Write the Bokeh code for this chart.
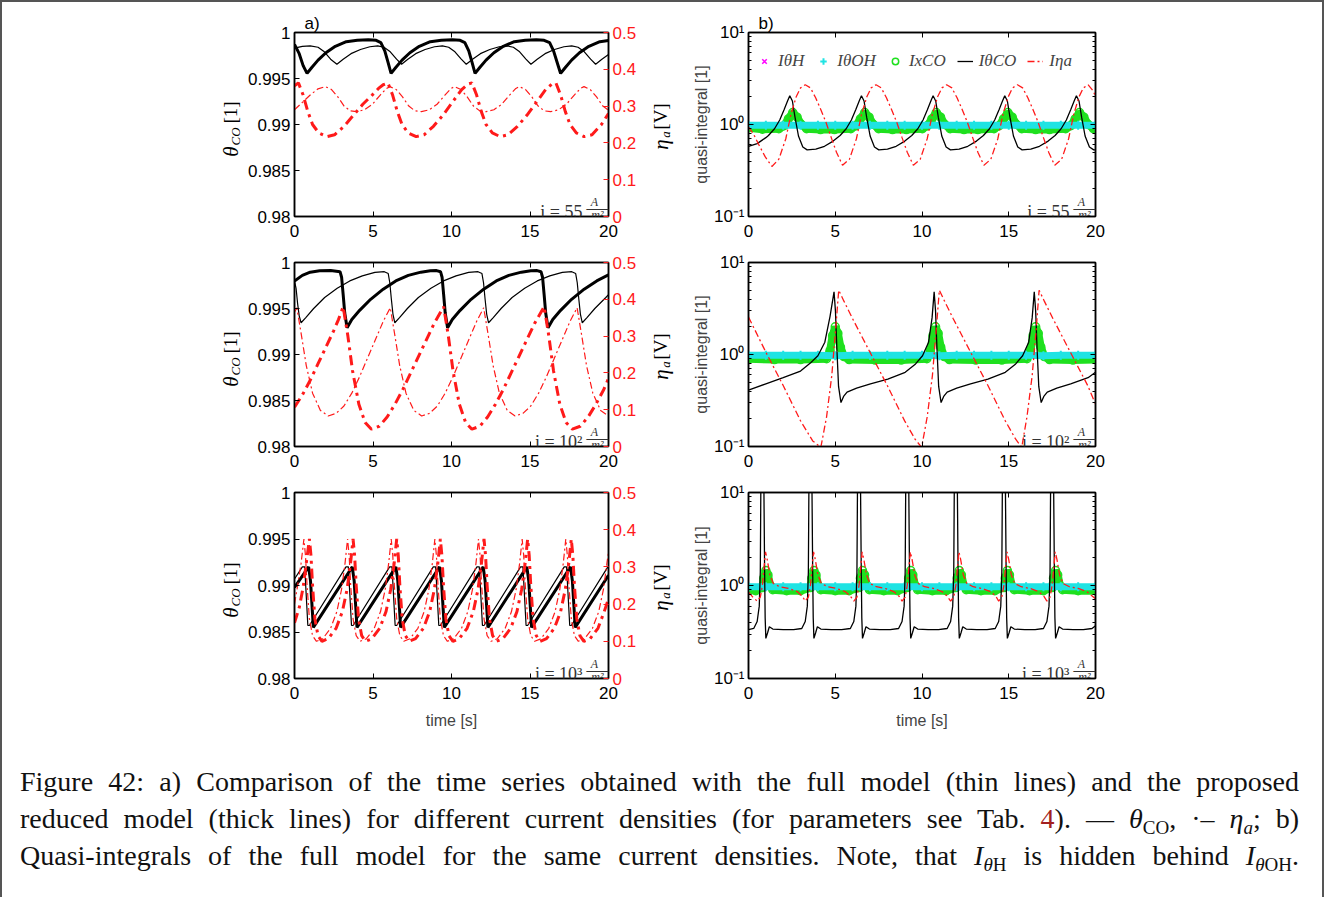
import math
from bokeh.plotting import figure
from bokeh.models import (Range1d, LinearAxis, LogAxis, FixedTicker, CustomJSTickFormatter,
                          Label, Legend, LegendItem, Spacer, Div, Title)
from bokeh.layouts import row, column
from bokeh.embed import file_html
from bokeh.resources import INLINE

# ---------------- tick values / labels ----------------
TIME_TICKS = [0, 5, 10, 15, 20]
THETA_TICKS = [0.98, 0.985, 0.99, 0.995, 1.0]
ETA_TICKS = [0, 0.1, 0.2, 0.3, 0.4, 0.5]
QI_TICKS = [0.1, 1, 10]
QI_MINOR = [0.2, 0.3, 0.4, 0.5, 0.6, 0.7, 0.8, 0.9, 2, 3, 4, 5, 6, 7, 8, 9]
CURRENTS = ["55", "10\u00b2", "10\u00b3"]

# ---------------- panel a1 (i = 55 A/m^2) ----------------
A1_THICK_THETA = [(0, 0.9987), (0.3, 0.9977), (0.55, 0.9964), (0.8, 0.99555), (1.1, 0.9962), (1.5, 0.9970),
    (2.0, 0.9978), (2.6, 0.9985), (3.3, 0.9990), (4.0, 0.99915), (4.7, 0.9992), (5.2, 0.99915), (5.5, 0.9989),
    (5.75, 0.9980), (5.95, 0.9968), (6.15, 0.99555), (6.45, 0.9962), (6.85, 0.9970), (7.35, 0.9978), (7.95, 0.9985),
    (8.65, 0.9990), (9.35, 0.99915), (10.05, 0.9992), (10.55, 0.99915), (10.85, 0.9989), (11.1, 0.9980),
    (11.3, 0.9968), (11.5, 0.99555), (11.8, 0.9962), (12.2, 0.9970), (12.7, 0.9978), (13.3, 0.9985), (14.0, 0.9990),
    (14.7, 0.99915), (15.4, 0.9992), (15.9, 0.99915), (16.25, 0.9989), (16.5, 0.9980), (16.72, 0.9968),
    (16.95, 0.99555), (17.25, 0.9962), (17.65, 0.9970), (18.15, 0.9978), (18.75, 0.9985), (19.45, 0.9990),
    (20.0, 0.99912)]
A1_THIN_THETA = [(0, 0.9983), (0.5, 0.9985), (1.0, 0.99855), (1.5, 0.9984), (1.9, 0.9979), (2.3, 0.9971),
    (2.7, 0.99655), (3.1, 0.9971), (3.6, 0.9977), (4.2, 0.99815), (4.8, 0.99845), (5.3, 0.99855), (5.7, 0.9984),
    (6.1, 0.9979), (6.5, 0.9971), (6.82, 0.99655), (7.22, 0.9971), (7.72, 0.9977), (8.32, 0.99815), (8.92, 0.99845),
    (9.42, 0.99855), (9.82, 0.9984), (10.22, 0.9979), (10.62, 0.9971), (10.94, 0.99655), (11.34, 0.9971),
    (11.84, 0.9977), (12.44, 0.99815), (13.04, 0.99845), (13.54, 0.99855), (13.94, 0.9984), (14.34, 0.9979),
    (14.74, 0.9971), (15.06, 0.99655), (15.46, 0.9971), (15.96, 0.9977), (16.56, 0.99815), (17.16, 0.99845),
    (17.66, 0.99855), (18.06, 0.9984), (18.46, 0.9979), (18.86, 0.9971), (19.18, 0.99655), (19.58, 0.9971),
    (20.0, 0.9976)]
A1_THICK_ETA = [(0, 0.355), (0.25, 0.363), (0.55, 0.33), (0.85, 0.285), (1.15, 0.25), (1.55, 0.227), (2.05, 0.217),
    (2.55, 0.222), (3.15, 0.245), (3.75, 0.275), (4.35, 0.305), (4.95, 0.33), (5.35, 0.348), (5.65, 0.358),
    (5.95, 0.363), (6.25, 0.33), (6.55, 0.285), (6.85, 0.25), (7.25, 0.227), (7.75, 0.217), (8.25, 0.222),
    (8.85, 0.245), (9.45, 0.275), (10.05, 0.31), (10.65, 0.345), (11.05, 0.36), (11.3, 0.363), (11.6, 0.33),
    (11.9, 0.285), (12.2, 0.25), (12.6, 0.227), (13.1, 0.217), (13.6, 0.222), (14.2, 0.245), (14.8, 0.275),
    (15.4, 0.31), (16.0, 0.345), (16.4, 0.36), (16.65, 0.363), (16.95, 0.33), (17.25, 0.285), (17.55, 0.25),
    (17.95, 0.227), (18.45, 0.217), (18.95, 0.222), (19.55, 0.25), (20.0, 0.28)]
A1_THIN_ETA = [(0, 0.29), (0.5, 0.31), (1.0, 0.33), (1.5, 0.347), (1.96, 0.353), (2.36, 0.345), (2.76, 0.325),
    (3.16, 0.300), (3.56, 0.287), (3.96, 0.285), (4.46, 0.290), (4.96, 0.305), (5.46, 0.330), (5.86, 0.348),
    (6.08, 0.353), (6.48, 0.345), (6.88, 0.325), (7.28, 0.300), (7.68, 0.287), (8.08, 0.285), (8.58, 0.290),
    (9.08, 0.305), (9.58, 0.330), (9.98, 0.348), (10.2, 0.353), (10.6, 0.345), (11.0, 0.325), (11.4, 0.300),
    (11.8, 0.287), (12.2, 0.285), (12.7, 0.290), (13.2, 0.305), (13.7, 0.330), (14.1, 0.348), (14.32, 0.353),
    (14.72, 0.345), (15.12, 0.325), (15.52, 0.300), (15.92, 0.287), (16.32, 0.285), (16.82, 0.290), (17.32, 0.305),
    (17.82, 0.330), (18.22, 0.348), (18.44, 0.353), (18.84, 0.345), (19.24, 0.325), (19.64, 0.300), (20.0, 0.289)]

# ---------------- panel a2 (i = 10^2 A/m^2) ----------------
A2_THICK_THETA = [(0, 0.9980), (0.5, 0.9986), (1.0, 0.99895), (1.6, 0.9991), (2.3, 0.99912), (2.9, 0.9990),
    (3.0, 0.9984), (3.1, 0.9965), (3.2, 0.9945), (3.35, 0.9929), (3.65, 0.9938), (4.15, 0.9948), (4.85, 0.9960),
    (5.65, 0.9971), (6.45, 0.9980), (7.25, 0.9986), (8.05, 0.99895), (8.65, 0.9991), (9.05, 0.99912), (9.3, 0.9990),
    (9.4, 0.9984), (9.5, 0.9965), (9.6, 0.9945), (9.75, 0.9929), (10.05, 0.9938), (10.55, 0.9948), (11.25, 0.9960),
    (12.05, 0.9971), (12.85, 0.9980), (13.65, 0.9986), (14.45, 0.99895), (15.05, 0.9991), (15.45, 0.99912),
    (15.7, 0.9990), (15.8, 0.9984), (15.9, 0.9965), (16.0, 0.9945), (16.15, 0.9929), (16.45, 0.9938),
    (16.95, 0.9948), (17.65, 0.9960), (18.45, 0.9971), (19.25, 0.9980), (20.0, 0.99865)]
A2_THIN_THETA = [(0, 0.9980), (0.1, 0.9972), (0.2, 0.9955), (0.3, 0.9942), (0.42, 0.99345), (0.72, 0.9940),
    (1.22, 0.9950), (1.92, 0.9962), (2.72, 0.9972), (3.52, 0.9980), (4.32, 0.99855), (5.12, 0.99893), (5.72, 0.9990),
    (5.97, 0.9988), (6.07, 0.9978), (6.17, 0.9960), (6.27, 0.9944), (6.39, 0.99345), (6.69, 0.9940), (7.19, 0.9950),
    (7.89, 0.9962), (8.69, 0.9972), (9.49, 0.9980), (10.29, 0.99855), (11.09, 0.99893), (11.69, 0.9990),
    (11.94, 0.9988), (12.04, 0.9978), (12.14, 0.9960), (12.24, 0.9944), (12.36, 0.99345), (12.66, 0.9940),
    (13.16, 0.9950), (13.86, 0.9962), (14.66, 0.9972), (15.46, 0.9980), (16.26, 0.99855), (17.06, 0.99893),
    (17.66, 0.9990), (17.91, 0.9988), (18.01, 0.9978), (18.11, 0.9960), (18.21, 0.9944), (18.33, 0.99345),
    (18.63, 0.9940), (19.13, 0.9950), (19.83, 0.9962), (20.0, 0.9965)]
A2_THICK_ETA = [(0, 0.107), (0.5, 0.14), (1.0, 0.18), (1.5, 0.225), (2.0, 0.27), (2.5, 0.315), (2.8, 0.345),
    (3.1, 0.38), (3.4, 0.30), (3.7, 0.205), (4.1, 0.115), (4.5, 0.065), (4.9, 0.047), (5.4, 0.055), (5.9, 0.08),
    (6.4, 0.115), (6.9, 0.155), (7.4, 0.2), (7.9, 0.245), (8.4, 0.29), (8.9, 0.335), (9.5, 0.38), (9.8, 0.30),
    (10.1, 0.205), (10.5, 0.115), (10.9, 0.065), (11.3, 0.047), (11.8, 0.055), (12.3, 0.08), (12.8, 0.115),
    (13.3, 0.155), (13.8, 0.2), (14.3, 0.245), (14.8, 0.29), (15.3, 0.335), (15.9, 0.38), (16.2, 0.30),
    (16.5, 0.205), (16.9, 0.115), (17.3, 0.065), (17.7, 0.047), (18.2, 0.055), (18.7, 0.08), (19.2, 0.115),
    (19.7, 0.155), (20.0, 0.185)]
A2_THIN_ETA = [(0, 0.365), (0.15, 0.377), (0.45, 0.30), (0.75, 0.22), (1.15, 0.145), (1.65, 0.098), (2.15, 0.083),
    (2.65, 0.09), (3.15, 0.11), (3.65, 0.145), (4.15, 0.19), (4.65, 0.24), (5.15, 0.29), (5.65, 0.34), (6.1, 0.377),
    (6.4, 0.30), (6.7, 0.22), (7.1, 0.145), (7.6, 0.098), (8.1, 0.083), (8.6, 0.09), (9.1, 0.11), (9.6, 0.145),
    (10.1, 0.19), (10.6, 0.24), (11.1, 0.29), (11.6, 0.34), (12.05, 0.377), (12.35, 0.30), (12.65, 0.22),
    (13.05, 0.145), (13.55, 0.098), (14.05, 0.083), (14.55, 0.09), (15.05, 0.11), (15.55, 0.145), (16.05, 0.19),
    (16.55, 0.24), (17.05, 0.29), (17.55, 0.34), (18.0, 0.377), (18.3, 0.30), (18.6, 0.22), (19.0, 0.145),
    (19.5, 0.098), (20.0, 0.083)]

# ---------------- panel a3 (i = 10^3 A/m^2) ----------------
A3_THICK_THETA = [(0, 0.9898), (0.9, 0.9920), (1.02, 0.9905), (1.2, 0.9855), (3.68, 0.9920), (3.80, 0.9905),
    (3.98, 0.9855), (6.46, 0.9920), (6.58, 0.9905), (6.76, 0.9855), (9.24, 0.9920), (9.36, 0.9905), (9.54, 0.9855),
    (12.02, 0.9920), (12.14, 0.9905), (12.32, 0.9855), (14.8, 0.9920), (14.92, 0.9905), (15.1, 0.9855),
    (17.58, 0.9920), (17.7, 0.9905), (17.88, 0.9855), (20.0, 0.9911)]
A3_THIN_THETA = [(0, 0.9907), (0.5, 0.9920), (0.65, 0.9920), (0.85, 0.9857), (0.95, 0.9857), (3.28, 0.9920),
    (3.43, 0.9920), (3.63, 0.9857), (3.73, 0.9857), (6.06, 0.9920), (6.21, 0.9920), (6.41, 0.9857), (6.51, 0.9857),
    (8.84, 0.9920), (8.99, 0.9920), (9.19, 0.9857), (9.29, 0.9857), (11.62, 0.9920), (11.77, 0.9920),
    (11.97, 0.9857), (12.07, 0.9857), (14.4, 0.9920), (14.55, 0.9920), (14.75, 0.9857), (14.85, 0.9857),
    (17.18, 0.9920), (17.33, 0.9920), (17.53, 0.9857), (17.63, 0.9857), (19.96, 0.9920), (20.0, 0.9920)]
A3_THICK_ETA = [(0, 0.15), (0.3, 0.19), (0.55, 0.245), (0.75, 0.31),
    (0.95, 0.375), (1.05, 0.33), (1.15, 0.25), (1.3, 0.16), (1.5, 0.115), (1.75, 0.10), (2.15, 0.107), (2.65, 0.135),
    (3.05, 0.18), (3.35, 0.24), (3.57, 0.31),
    (3.73, 0.375), (3.83, 0.33), (3.93, 0.25), (4.08, 0.16), (4.28, 0.115), (4.53, 0.10), (4.93, 0.107), (5.43, 0.135),
    (5.83, 0.18), (6.13, 0.24), (6.35, 0.31),
    (6.51, 0.375), (6.61, 0.33), (6.71, 0.25), (6.86, 0.16), (7.06, 0.115), (7.31, 0.10), (7.71, 0.107), (8.21, 0.135),
    (8.61, 0.18), (8.91, 0.24), (9.13, 0.31),
    (9.29, 0.375), (9.39, 0.33), (9.49, 0.25), (9.64, 0.16), (9.84, 0.115), (10.09, 0.10), (10.49, 0.107),
    (10.99, 0.135), (11.39, 0.18), (11.69, 0.24), (11.91, 0.31),
    (12.07, 0.375), (12.17, 0.33), (12.27, 0.25), (12.42, 0.16), (12.62, 0.115), (12.87, 0.10), (13.27, 0.107),
    (13.77, 0.135), (14.17, 0.18), (14.47, 0.24), (14.69, 0.31),
    (14.85, 0.375), (14.95, 0.33), (15.05, 0.25), (15.2, 0.16), (15.4, 0.115), (15.65, 0.10), (16.05, 0.107),
    (16.55, 0.135), (16.95, 0.18), (17.25, 0.24), (17.47, 0.31),
    (17.63, 0.375), (17.73, 0.33), (17.83, 0.25), (17.98, 0.16), (18.18, 0.115), (18.43, 0.10), (18.83, 0.107),
    (19.33, 0.135), (19.73, 0.18), (20.0, 0.215)]
A3_THIN_ETA = [(0, 0.2), (0.2, 0.25), (0.42, 0.31),
    (0.6, 0.375), (0.7, 0.33), (0.8, 0.25), (0.95, 0.16), (1.15, 0.115), (1.4, 0.10), (1.8, 0.107), (2.3, 0.135),
    (2.7, 0.18), (3.0, 0.24), (3.22, 0.31),
    (3.38, 0.375), (3.48, 0.33), (3.58, 0.25), (3.73, 0.16), (3.93, 0.115), (4.18, 0.10), (4.58, 0.107), (5.08, 0.135),
    (5.48, 0.18), (5.78, 0.24), (6.0, 0.31),
    (6.16, 0.375), (6.26, 0.33), (6.36, 0.25), (6.51, 0.16), (6.71, 0.115), (6.96, 0.10), (7.36, 0.107), (7.86, 0.135),
    (8.26, 0.18), (8.56, 0.24), (8.78, 0.31),
    (8.94, 0.375), (9.04, 0.33), (9.14, 0.25), (9.29, 0.16), (9.49, 0.115), (9.74, 0.10), (10.14, 0.107),
    (10.64, 0.135), (11.04, 0.18), (11.34, 0.24), (11.56, 0.31),
    (11.72, 0.375), (11.82, 0.33), (11.92, 0.25), (12.07, 0.16), (12.27, 0.115), (12.52, 0.10), (12.92, 0.107),
    (13.42, 0.135), (13.82, 0.18), (14.12, 0.24), (14.34, 0.31),
    (14.5, 0.375), (14.6, 0.33), (14.7, 0.25), (14.85, 0.16), (15.05, 0.115), (15.3, 0.10), (15.7, 0.107),
    (16.2, 0.135), (16.6, 0.18), (16.9, 0.24), (17.12, 0.31),
    (17.28, 0.375), (17.38, 0.33), (17.48, 0.25), (17.63, 0.16), (17.83, 0.115), (18.08, 0.10), (18.48, 0.107),
    (18.98, 0.135), (19.38, 0.18), (19.68, 0.24), (19.9, 0.31), (20.0, 0.34)]

# ---------------- panel b1 quasi-integrals (i = 55) ----------------
B1_THETA_CO = [(0, 0.58), (0.5, 0.62), (1.0, 0.72), (1.15, 0.76), (1.5, 0.9), (1.8, 1.12), (2.05, 1.45), (2.25, 1.8),
    (2.38, 2.05), (2.53, 1.8), (2.68, 1.2), (2.88, 0.75), (3.13, 0.57), (3.38, 0.53), (3.88, 0.54), (4.38, 0.58),
    (4.88, 0.66), (5.28, 0.76), (5.63, 0.9), (5.93, 1.12), (6.18, 1.45), (6.38, 1.8), (6.51, 2.05), (6.66, 1.8),
    (6.81, 1.2), (7.01, 0.75), (7.26, 0.57), (7.51, 0.53), (8.01, 0.54), (8.51, 0.58), (9.01, 0.66), (9.41, 0.76),
    (9.76, 0.9), (10.06, 1.12), (10.31, 1.45), (10.51, 1.8), (10.64, 2.05), (10.79, 1.8), (10.94, 1.2),
    (11.14, 0.75), (11.39, 0.57), (11.64, 0.53), (12.14, 0.54), (12.64, 0.58), (13.14, 0.66), (13.54, 0.76),
    (13.89, 0.9), (14.19, 1.12), (14.44, 1.45), (14.64, 1.8), (14.77, 2.05), (14.92, 1.8), (15.07, 1.2),
    (15.27, 0.75), (15.52, 0.57), (15.77, 0.53), (16.27, 0.54), (16.77, 0.58), (17.27, 0.66), (17.67, 0.76),
    (18.02, 0.9), (18.32, 1.12), (18.57, 1.45), (18.77, 1.8), (18.9, 2.05), (19.05, 1.8), (19.2, 1.2),
    (19.4, 0.75), (19.65, 0.57), (19.9, 0.53), (20.0, 0.53)]
B1_ETA = [(0, 0.94), (0.3, 0.78), (0.6, 0.6), (0.95, 0.45), (1.35, 0.35), (1.75, 0.42), (2.15, 0.7), (2.45, 1.3),
    (2.75, 2.0), (3.0, 2.5), (3.27, 2.7), (3.57, 2.5), (3.87, 1.95), (4.17, 1.45), (4.47, 1.05), (4.77, 0.72),
    (5.07, 0.5), (5.42, 0.36), (5.82, 0.42), (6.22, 0.7), (6.52, 1.3), (6.82, 2.0), (7.07, 2.5), (7.35, 2.7),
    (7.65, 2.5), (7.95, 1.95), (8.25, 1.45), (8.55, 1.05), (8.85, 0.72), (9.15, 0.5), (9.5, 0.36), (9.9, 0.42),
    (10.3, 0.7), (10.6, 1.3), (10.9, 2.0), (11.15, 2.5), (11.42, 2.7), (11.72, 2.5), (12.02, 1.95), (12.32, 1.45),
    (12.62, 1.05), (12.92, 0.72), (13.22, 0.5), (13.57, 0.36), (13.97, 0.42), (14.37, 0.7), (14.67, 1.3),
    (14.97, 2.0), (15.22, 2.5), (15.5, 2.7), (15.8, 2.5), (16.1, 1.95), (16.4, 1.45), (16.7, 1.05), (17.0, 0.72),
    (17.3, 0.5), (17.65, 0.36), (18.05, 0.42), (18.45, 0.7), (18.75, 1.3), (19.05, 2.0), (19.3, 2.5), (19.58, 2.7),
    (19.88, 2.3), (20.0, 2.0)]
B1_X_CO = [(0, 0.92), (0.8, 0.89), (1.75, 0.9), (2.05, 0.97), (2.3, 1.15), (2.55, 1.35), (2.8, 1.2), (3.05, 1.0),
    (3.35, 0.9), (4.15, 0.88), (4.95, 0.88), (5.9, 0.9), (6.2, 0.97), (6.45, 1.15), (6.7, 1.35), (6.95, 1.2),
    (7.2, 1.0), (7.5, 0.9), (8.3, 0.88), (9.1, 0.88), (10.02, 0.9), (10.32, 0.97), (10.57, 1.15), (10.82, 1.35),
    (11.07, 1.2), (11.32, 1.0), (11.62, 0.9), (12.42, 0.88), (13.22, 0.88), (14.15, 0.9), (14.45, 0.97),
    (14.7, 1.15), (14.95, 1.35), (15.2, 1.2), (15.45, 1.0), (15.75, 0.9), (16.55, 0.88), (17.35, 0.88),
    (18.28, 0.9), (18.58, 0.97), (18.83, 1.15), (19.08, 1.35), (19.33, 1.2), (19.58, 1.0), (19.88, 0.9), (20.0, 0.89)]
B1_THETA_OH = [(0, 0.98), (1, 0.98), (2, 0.98), (3, 0.98), (4, 0.98), (5, 0.98), (6, 0.98), (7, 0.98), (8, 0.98),
    (9, 0.98), (10, 0.98), (11, 0.98), (12, 0.98), (13, 0.98), (14, 0.98), (15, 0.98), (16, 0.98), (17, 0.98),
    (18, 0.98), (19, 0.98), (20, 0.98)]
B1_THETA_H = [(0, 0.98), (2, 0.98), (4, 0.98), (6, 0.98), (8, 0.98), (10, 0.98), (12, 0.98), (14, 0.98),
    (16, 0.98), (18, 0.98), (20, 0.98)]

# ---------------- panel b2 quasi-integrals (i = 10^2) ----------------
B2_THETA_CO = [(0, 0.41), (1.0, 0.48), (2.0, 0.56), (3.0, 0.66), (3.6, 0.82), (4.0, 0.97), (4.4, 1.36), (4.7, 2.6),
    (4.93, 4.8), (5.01, 3.0), (5.09, 1.2), (5.19, 0.45), (5.33, 0.30), (5.48, 0.35), (5.68, 0.39), (6.23, 0.43),
    (7.03, 0.48), (8.03, 0.54), (9.03, 0.64), (9.63, 0.79), (10.03, 0.97), (10.38, 1.36), (10.58, 2.5), (10.7, 4.8),
    (10.78, 3.0), (10.86, 1.2), (10.96, 0.45), (11.1, 0.30), (11.25, 0.35), (11.45, 0.39), (12.0, 0.43),
    (12.8, 0.48), (13.8, 0.54), (14.8, 0.64), (15.4, 0.79), (15.8, 0.97), (16.15, 1.36), (16.35, 2.5), (16.47, 4.8),
    (16.55, 3.0), (16.63, 1.2), (16.73, 0.45), (16.87, 0.30), (17.02, 0.35), (17.22, 0.39), (17.77, 0.43),
    (18.57, 0.48), (19.57, 0.56), (20.0, 0.64)]
B2_ETA = [(0, 2.56), (1.0, 1.06), (2.0, 0.46), (3.0, 0.19), (3.7, 0.115), (4.17, 0.098), (4.5, 0.21), (4.8, 0.59),
    (5.04, 2.07), (5.2, 5.0), (5.5, 3.8), (6.0, 2.45), (7.0, 1.06), (8.0, 0.46), (9.0, 0.19), (9.6, 0.12),
    (9.98, 0.098), (10.3, 0.21), (10.6, 0.59), (10.84, 2.07), (11.0, 5.0), (11.3, 3.8), (11.8, 2.45), (12.8, 1.06),
    (13.8, 0.46), (14.8, 0.19), (15.4, 0.12), (15.75, 0.098), (16.05, 0.21), (16.35, 0.59), (16.6, 2.07),
    (16.75, 5.0), (17.05, 3.8), (17.55, 2.45), (18.55, 1.06), (19.55, 0.46), (20.0, 0.29)]
B2_X_CO = [(0, 0.9), (1.5, 0.88), (3.0, 0.88), (4.5, 0.9), (4.7, 1.1), (4.85, 1.6), (5.0, 2.0), (5.15, 1.7),
    (5.3, 1.2), (5.5, 0.95), (5.8, 0.88), (7.3, 0.87), (8.8, 0.87), (10.28, 0.9), (10.48, 1.1), (10.63, 1.6),
    (10.78, 2.0), (10.93, 1.7), (11.08, 1.2), (11.28, 0.95), (11.58, 0.88), (13.1, 0.87), (14.6, 0.87),
    (16.05, 0.9), (16.25, 1.1), (16.4, 1.6), (16.55, 2.0), (16.7, 1.7), (16.85, 1.2), (17.05, 0.95), (17.35, 0.88),
    (18.7, 0.87), (20.0, 0.88)]
B2_THETA_OH = [(0, 0.98), (1, 0.98), (2, 0.98), (3, 0.98), (4, 0.98), (5, 0.97), (6, 0.98), (7, 0.98), (8, 0.98),
    (9, 0.98), (10, 0.98), (11, 0.97), (12, 0.98), (13, 0.98), (14, 0.98), (15, 0.98), (16, 0.98), (17, 0.97),
    (18, 0.98), (19, 0.98), (20, 0.98)]
B2_THETA_H = [(0, 0.98), (2, 0.98), (4, 0.98), (6, 0.98), (8, 0.98), (10, 0.98), (12, 0.98), (14, 0.98),
    (16, 0.98), (18, 0.98), (20, 0.98)]

# ---------------- panel b3 quasi-integrals (i = 10^3) ----------------
B3_THETA_CO = [(0, 0.335),
    (0.3, 0.345), (0.5, 0.41), (0.62, 0.6), (0.68, 1.4), (0.71, 10), (0.8, 40), (0.89, 10), (0.93, 1.4), (0.96, 0.45),
    (1.0, 0.27), (1.1, 0.31), (1.2, 0.36), (1.4, 0.34), (2.0, 0.335), (2.6, 0.335),
    (3.07, 0.345), (3.27, 0.41), (3.39, 0.6), (3.45, 1.4), (3.48, 10), (3.57, 40), (3.66, 10), (3.7, 1.4),
    (3.73, 0.45), (3.77, 0.27), (3.87, 0.31), (3.97, 0.36), (4.17, 0.34), (4.77, 0.335), (5.37, 0.335),
    (5.87, 0.345), (6.07, 0.41), (6.19, 0.6), (6.25, 1.4), (6.28, 10), (6.37, 40), (6.46, 10), (6.5, 1.4),
    (6.53, 0.45), (6.57, 0.27), (6.67, 0.31), (6.77, 0.36), (6.97, 0.34), (7.57, 0.335), (8.17, 0.335),
    (8.65, 0.345), (8.85, 0.41), (8.97, 0.6), (9.03, 1.4), (9.06, 10), (9.15, 40), (9.24, 10), (9.28, 1.4),
    (9.31, 0.45), (9.35, 0.27), (9.45, 0.31), (9.55, 0.36), (9.75, 0.34), (10.35, 0.335), (10.95, 0.335),
    (11.45, 0.345), (11.65, 0.41), (11.77, 0.6), (11.83, 1.4), (11.86, 10), (11.95, 40), (12.04, 10), (12.08, 1.4),
    (12.11, 0.45), (12.15, 0.27), (12.25, 0.31), (12.35, 0.36), (12.55, 0.34), (13.15, 0.335), (13.75, 0.335),
    (14.22, 0.345), (14.42, 0.41), (14.54, 0.6), (14.6, 1.4), (14.63, 10), (14.72, 40), (14.81, 10), (14.85, 1.4),
    (14.88, 0.45), (14.92, 0.27), (15.02, 0.31), (15.12, 0.36), (15.32, 0.34), (15.92, 0.335), (16.52, 0.335),
    (17.0, 0.345), (17.2, 0.41), (17.32, 0.6), (17.38, 1.4), (17.41, 10), (17.5, 40), (17.59, 10), (17.63, 1.4),
    (17.66, 0.45), (17.7, 0.27), (17.8, 0.31), (17.9, 0.36), (18.1, 0.34), (18.7, 0.335), (19.3, 0.335),
    (19.8, 0.345), (20.0, 0.37)]
B3_ETA = [(0, 0.85), (0.25, 0.75),
    (0.5, 0.68), (0.68, 0.75), (0.8, 1.0), (0.9, 1.6), (0.98, 2.3), (1.08, 1.9), (1.23, 1.3), (1.43, 1.05),
    (1.8, 0.97), (2.3, 0.93), (2.8, 0.86), (3.1, 0.77),
    (3.27, 0.68), (3.45, 0.75), (3.57, 1.0), (3.67, 1.6), (3.75, 2.3), (3.85, 1.9), (4.0, 1.3), (4.2, 1.05),
    (4.57, 0.97), (5.07, 0.93), (5.57, 0.86), (5.87, 0.77),
    (6.07, 0.68), (6.25, 0.75), (6.37, 1.0), (6.47, 1.6), (6.55, 2.3), (6.65, 1.9), (6.8, 1.3), (7.0, 1.05),
    (7.37, 0.97), (7.87, 0.93), (8.37, 0.86), (8.67, 0.77),
    (8.85, 0.68), (9.03, 0.75), (9.15, 1.0), (9.25, 1.6), (9.33, 2.3), (9.43, 1.9), (9.58, 1.3), (9.78, 1.05),
    (10.15, 0.97), (10.65, 0.93), (11.15, 0.86), (11.45, 0.77),
    (11.65, 0.68), (11.83, 0.75), (11.95, 1.0), (12.05, 1.6), (12.13, 2.3), (12.23, 1.9), (12.38, 1.3),
    (12.58, 1.05), (12.95, 0.97), (13.45, 0.93), (13.95, 0.86), (14.25, 0.77),
    (14.42, 0.68), (14.6, 0.75), (14.72, 1.0), (14.82, 1.6), (14.9, 2.3), (15.0, 1.9), (15.15, 1.3), (15.35, 1.05),
    (15.72, 0.97), (16.22, 0.93), (16.72, 0.86), (17.02, 0.77),
    (17.2, 0.68), (17.38, 0.75), (17.5, 1.0), (17.6, 1.6), (17.68, 2.3), (17.78, 1.9), (17.93, 1.3), (18.13, 1.05),
    (18.5, 0.97), (19.0, 0.93), (19.5, 0.86), (20.0, 0.72)]
B3_X_CO = [(0, 0.9), (0.42, 0.88), (0.8, 0.95), (0.88, 1.2), (1.0, 1.45), (1.12, 1.3), (1.25, 1.0), (1.4, 0.9),
    (2.2, 0.88), (3.0, 0.88), (3.57, 0.95), (3.65, 1.2), (3.77, 1.45), (3.89, 1.3), (4.02, 1.0), (4.17, 0.9),
    (5.0, 0.88), (5.8, 0.88), (6.37, 0.95), (6.45, 1.2), (6.57, 1.45), (6.69, 1.3), (6.82, 1.0), (6.97, 0.9),
    (7.8, 0.88), (8.6, 0.88), (9.15, 0.95), (9.23, 1.2), (9.35, 1.45), (9.47, 1.3), (9.6, 1.0), (9.75, 0.9),
    (10.6, 0.88), (11.4, 0.88), (11.95, 0.95), (12.03, 1.2), (12.15, 1.45), (12.27, 1.3), (12.4, 1.0), (12.55, 0.9),
    (13.4, 0.88), (14.2, 0.88), (14.72, 0.95), (14.8, 1.2), (14.92, 1.45), (15.04, 1.3), (15.17, 1.0), (15.32, 0.9),
    (16.2, 0.88), (17.0, 0.88), (17.5, 0.95), (17.58, 1.2), (17.7, 1.45), (17.82, 1.3), (17.95, 1.0), (18.1, 0.9),
    (19.0, 0.88), (20.0, 0.88)]
B3_THETA_OH = [(0, 0.97), (1, 0.97), (2, 0.97), (3, 0.97), (4, 0.97), (5, 0.97), (6, 0.97), (7, 0.97), (8, 0.97),
    (9, 0.97), (10, 0.97), (11, 0.97), (12, 0.97), (13, 0.97), (14, 0.97), (15, 0.97), (16, 0.97), (17, 0.97),
    (18, 0.97), (19, 0.97), (20, 0.97)]
B3_THETA_H = [(0, 0.97), (2, 0.97), (4, 0.97), (6, 0.97), (8, 0.97), (10, 0.97), (12, 0.97), (14, 0.97),
    (16, 0.97), (18, 0.97), (20, 0.97)]

# ---------------- styling ----------------
SERIF = "Liberation Serif"
SANS = "Liberation Sans"
RED = "#ff1a1a"
GREEN = "#1fe01f"
CYAN = "#1fe3e3"
MAGENTA = "#ff00ff"

FMT = CustomJSTickFormatter(code="return String(parseFloat(tick.toFixed(3)));")
LOGFMT = CustomJSTickFormatter(code="if (tick < 0.5) { return '10\u207b\u00b9'; } if (tick < 5) { return '10\u2070'; } return '10\u00b9';")

# geometry (pixels)
A_LEFT, A_FRAME_W, A_RIGHT = 47, 317, 34
LBL_L_W, LBL_R_W = 30, 37
B_LEFT, B_FRAME_W, B_RIGHT = 65, 347, 14
TOP1, TOP, BOT, BOT_LAST = 27, 17, 29, 58
FRAME_H, FRAME_H_LAST = 184, 186
ROW1_H = TOP1 + FRAME_H + BOT
ROW_H = TOP + FRAME_H + BOT
ROW3_H = TOP + FRAME_H_LAST + BOT_LAST


def xy(pairs):
    return [a for a, _ in pairs], [b for _, b in pairs]


def lab(p, x, y, text, xo=0, yo=0, size="17px", font=SERIF, style="normal", align="left",
        base="alphabetic", angle=0.0, color="black"):
    p.add_layout(Label(x=x, y=y, x_offset=xo, y_offset=yo, text=text, text_font=font,
                       text_font_size=size, text_font_style=style, text_align=align,
                       text_baseline=base, angle=angle, text_color=color))


def style_axis(ax, color="black", size="17px", standoff=4):
    ax.major_tick_in = 5
    ax.major_tick_out = 0
    ax.minor_tick_in = 0
    ax.minor_tick_out = 0
    ax.major_tick_line_color = color
    ax.major_tick_line_width = 1
    ax.axis_line_color = "black"
    ax.axis_line_width = 1.5
    ax.major_label_text_font = SANS
    ax.major_label_text_font_size = size
    ax.major_label_text_color = color
    ax.major_label_standoff = standoff


def hide_labels(ax):
    ax.major_label_text_font_size = "1px"
    ax.major_label_text_alpha = 0.0
    ax.major_label_standoff = 0


def text_fig(width, height, frame_h):
    f = figure(width=width, height=height, x_range=Range1d(0, width), y_range=Range1d(0, frame_h),
               output_backend="svg", toolbar_location=None, x_axis_location=None, y_axis_location=None,
               min_border=0)
    f.outline_line_color = None
    f.xgrid.visible = False
    f.ygrid.visible = False
    f.background_fill_color = "white"
    f.border_fill_color = "white"
    return f


def base_fig(width, height, top, bottom, left, right, y_range, log=False, tag=None):
    p = figure(width=width, height=height, x_range=Range1d(0, 20), y_range=y_range,
               y_axis_type="log" if log else "linear",
               output_backend="svg", toolbar_location=None,
               min_border_left=left, min_border_right=right,
               min_border_top=top, min_border_bottom=bottom)
    p.xgrid.visible = False
    p.ygrid.visible = False
    p.outline_line_color = "black"
    p.outline_line_width = 1.5
    p.outline_line_alpha = 1.0
    p.background_fill_color = "white"
    p.border_fill_color = "white"
    bx = p.below[0]
    bx.ticker = FixedTicker(ticks=TIME_TICKS)
    style_axis(bx, standoff=8)
    top_ax = LinearAxis(ticker=FixedTicker(ticks=TIME_TICKS))
    style_axis(top_ax)
    hide_labels(top_ax)
    p.add_layout(top_ax, "above")
    if tag:
        p.add_layout(Title(text=tag, align="left", offset=10, standoff=0, text_font=SANS,
                           text_font_size="17px", text_font_style="normal", text_color="black"), "above")
    return p


def time_label(p):
    bx = p.below[0]
    bx.axis_label = "time [s]"
    bx.axis_label_text_font = SANS
    bx.axis_label_text_font_style = "normal"
    bx.axis_label_text_font_size = "16px"
    bx.axis_label_standoff = 10


def current_label(p, ybot, cur):
    lab(p, 20, ybot, "i = " + cur, xo=-26, yo=5, size="18px", color="#333333", align="right")
    lab(p, 20, ybot, "A", xo=-14, yo=15, size="12px", style="italic", align="center", color="#333333")
    lab(p, 20, ybot, "\u2014", xo=-11, yo=9, size="22px", align="center", color="#333333")
    lab(p, 20, ybot, "m\u00b2", xo=-11, yo=2, size="12px", style="italic", align="center", color="#333333")


def side_labels(height, frame_h):
    """Rotated y-axis titles (theta_CO [1] on the left, eta_a [V] on the right)."""
    ymid = frame_h / 2.0
    half = math.pi / 2
    fl = text_fig(LBL_L_W, height, frame_h)
    lab(fl, 16, ymid - 27, "\u03b8", size="21px", style="italic", align="center", base="middle", angle=half)
    lab(fl, 21, ymid - 12, "CO", size="13px", style="italic", align="center", base="middle", angle=half)
    lab(fl, 16, ymid + 12, "[1]", size="19px", align="center", base="middle", angle=half)
    fr = text_fig(LBL_R_W, height, frame_h)
    lab(fr, 18, ymid - 20, "\u03b7", size="21px", style="italic", align="center", base="middle", angle=half)
    lab(fr, 23, ymid - 10, "a", size="13px", style="italic", align="center", base="middle", angle=half)
    lab(fr, 18, ymid + 8, "[V]", size="19px", align="center", base="middle", angle=half)
    return fl, fr


def make_a(thick_th, thin_th, thick_eta, thin_eta, cur, height, top, bottom, tag=None, xlabel=False):
    p = base_fig(A_LEFT + A_FRAME_W + A_RIGHT, height, top, bottom, A_LEFT, A_RIGHT, Range1d(0.98, 1.0),
                 tag=tag)
    p.extra_y_ranges = {"eta": Range1d(0, 0.5)}
    ly = p.left[0]
    ly.ticker = FixedTicker(ticks=THETA_TICKS)
    ly.formatter = FMT
    style_axis(ly)
    ry = LinearAxis(y_range_name="eta", ticker=FixedTicker(ticks=ETA_TICKS), formatter=FMT)
    style_axis(ry, color=RED)
    p.add_layout(ry, "right")

    x, y = xy(thin_th)
    p.line(x, y, line_color="black", line_width=1.2)
    x, y = xy(thick_th)
    p.line(x, y, line_color="black", line_width=3)
    x, y = xy(thin_eta)
    p.line(x, y, line_color=RED, line_width=1.2, line_dash="7 3 2 3", y_range_name="eta")
    x, y = xy(thick_eta)
    p.line(x, y, line_color=RED, line_width=3, line_dash="10 5 3 5", y_range_name="eta")

    current_label(p, 0.98, cur)
    if xlabel:
        time_label(p)
    return p


def make_b(theta_h, theta_oh, x_co, theta_co, eta, cur, height, top, bottom, tag=None, legend=False,
           xlabel=False):
    p = base_fig(B_LEFT + B_FRAME_W + B_RIGHT, height, top, bottom, B_LEFT, B_RIGHT, Range1d(0.1, 10),
                 log=True, tag=tag)
    ly = p.left[0]
    ly.ticker = FixedTicker(ticks=QI_TICKS, minor_ticks=QI_MINOR)
    ly.formatter = LOGFMT
    style_axis(ly)
    ly.minor_tick_in = 3
    ly.axis_label = "quasi-integral [1]"
    ly.axis_label_text_font = SANS
    ly.axis_label_text_font_style = "normal"
    ly.axis_label_text_font_size = "16px"
    ly.axis_label_standoff = 1
    ry = LogAxis(ticker=FixedTicker(ticks=QI_TICKS, minor_ticks=QI_MINOR))
    style_axis(ry)
    ry.minor_tick_in = 3
    hide_labels(ry)
    p.add_layout(ry, "right")

    x, y = xy(x_co)
    p.line(x, y, line_color=GREEN, line_width=8)
    r_x = p.scatter(x, y, marker="circle", size=8, line_color=GREEN, fill_color=None, line_width=1.5)
    x, y = xy(theta_h)
    r_h = p.scatter(x, y, marker="x", size=6, line_color=MAGENTA, line_width=1.5)
    x, y = xy(theta_oh)
    p.line(x, y, line_color=CYAN, line_width=7)
    r_oh = p.scatter(x, y, marker="cross", size=9, line_color=CYAN, line_width=2)
    x, y = xy(theta_co)
    r_co = p.line(x, y, line_color="black", line_width=1.3)
    x, y = xy(eta)
    r_eta = p.line(x, y, line_color=RED, line_width=1.3, line_dash="7 3 2 3")

    if legend:
        items = [LegendItem(label="I\u03b8H", renderers=[r_h]),
                 LegendItem(label="I\u03b8OH", renderers=[r_oh]),
                 LegendItem(label="IxCO", renderers=[r_x]),
                 LegendItem(label="I\u03b8CO", renderers=[r_co]),
                 LegendItem(label="I\u03b7a", renderers=[r_eta])]
        fh = height - top - bottom
        lg = Legend(items=items, orientation="horizontal", location=(8, fh - 19 - 20),
                    label_text_font=SERIF, label_text_font_style="italic", label_text_font_size="17px",
                    glyph_width=16, glyph_height=16, label_standoff=6, spacing=11, padding=0, margin=0,
                    background_fill_alpha=0, border_line_alpha=0)
        p.add_layout(lg)
    current_label(p, 0.1, cur)
    if xlabel:
        time_label(p)
    return p


a1 = make_a(A1_THICK_THETA, A1_THIN_THETA, A1_THICK_ETA, A1_THIN_ETA, CURRENTS[0], ROW1_H, TOP1, BOT, tag="a)")
a2 = make_a(A2_THICK_THETA, A2_THIN_THETA, A2_THICK_ETA, A2_THIN_ETA, CURRENTS[1], ROW_H, TOP, BOT)
a3 = make_a(A3_THICK_THETA, A3_THIN_THETA, A3_THICK_ETA, A3_THIN_ETA, CURRENTS[2], ROW3_H, TOP, BOT_LAST,
            xlabel=True)
b1 = make_b(B1_THETA_H, B1_THETA_OH, B1_X_CO, B1_THETA_CO, B1_ETA, CURRENTS[0], ROW1_H, TOP1, BOT, tag="b)",
            legend=True)
b2 = make_b(B2_THETA_H, B2_THETA_OH, B2_X_CO, B2_THETA_CO, B2_ETA, CURRENTS[1], ROW_H, TOP, BOT)
b3 = make_b(B3_THETA_H, B3_THETA_OH, B3_X_CO, B3_THETA_CO, B3_ETA, CURRENTS[2], ROW3_H, TOP, BOT_LAST,
            xlabel=True)

l1, r1 = side_labels(ROW1_H, FRAME_H)
l2, r2 = side_labels(ROW_H, FRAME_H)
l3, r3 = side_labels(ROW3_H, FRAME_H_LAST)

SUB = '<sub style="font-size:68%;line-height:0;vertical-align:-0.3em">'
LINE_STYLE = "text-align:justify;text-align-last:justify;"
cap_lines = [
    "Figure 42: a) Comparison of the time series obtained with the full model (thin lines) and the proposed",
    "reduced model (thick lines) for different current densities (for parameters see Tab. "
    "<span style=\"color:#a31f1f\">4</span>). \u2014 <i>\u03b8</i>" + SUB + "CO</sub>, \u00b7\u2013 <i>\u03b7"
    + SUB + "a</sub></i>; b)",
    "Quasi-integrals of the full model for the same current densities. Note, that <i>I</i>" + SUB
    + "<i>\u03b8</i>H</sub> is hidden behind <i>I</i>" + SUB + "<i>\u03b8</i>OH</sub>.",
]
cap_html = ('<div style="padding:22px 0 0 13px;width:1292px;font-family:\'Liberation Serif\';'
            'font-size:28px;line-height:37px;color:#111;">'
            + "".join('<div style="%s">%s</div>' % (LINE_STYLE, t) for t in cap_lines) + "</div>")
caption = Div(text=cap_html, width=1310, height=151)


def panel_row(h, la, a, ra, b):
    return row(Spacer(width=212, height=h), la, a, ra, Spacer(width=4, height=h), b)


layout = column(
    Spacer(width=10, height=3),
    panel_row(ROW1_H, l1, a1, r1, b1),
    panel_row(ROW_H, l2, a2, r2, b2),
    panel_row(ROW3_H, l3, a3, r3, b3),
    caption,
    styles={"border-left": "2px solid #555555", "border-right": "2px solid #555555",
            "border-top": "2px solid #555555"},
)

open("out.html", "w").write(file_html(layout, INLINE))
